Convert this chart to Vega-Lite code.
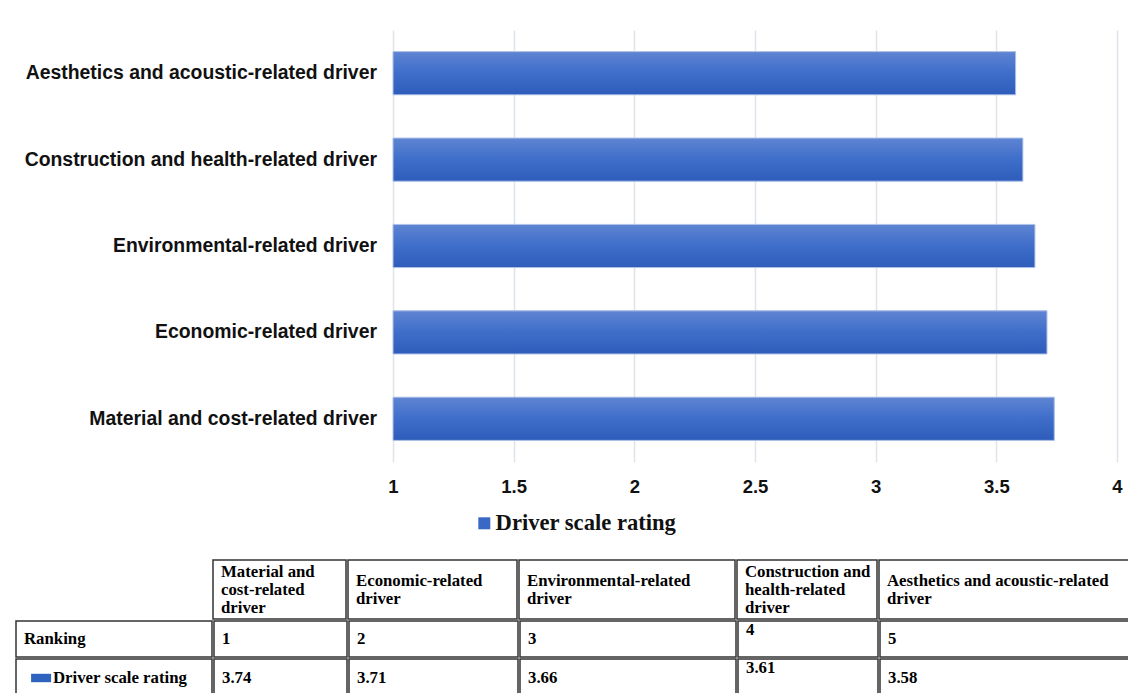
{
  "$schema": "https://vega.github.io/schema/vega-lite/v6.json",
  "background": "white",
  "padding": {"left": 15, "top": 30, "right": 0, "bottom": 0},
  "spacing": 63,
  "datasets": {
    "drivers": [
      {"driver": "Aesthetics and acoustic-related driver", "header": "Aesthetics and acoustic-related\ndriver", "rank": 5, "rating": 3.58, "series": "Driver scale rating"},
      {"driver": "Construction and health-related driver", "header": "Construction and\nhealth-related\ndriver", "rank": 4, "rating": 3.61, "series": "Driver scale rating"},
      {"driver": "Environmental-related driver", "header": "Environmental-related\ndriver", "rank": 3, "rating": 3.66, "series": "Driver scale rating"},
      {"driver": "Economic-related driver", "header": "Economic-related\ndriver", "rank": 2, "rating": 3.71, "series": "Driver scale rating"},
      {"driver": "Material and cost-related driver", "header": "Material and\ncost-related\ndriver", "rank": 1, "rating": 3.74, "series": "Driver scale rating"}
    ]
  },
  "config": {
    "view": {"stroke": "#333333", "strokeWidth": 1.5},
    "style": {
      "tbl": {"font": "Liberation Serif", "fontWeight": "bold", "fontSize": 16.8, "align": "left", "baseline": "middle", "dx": 8, "fill": "#111111"}
    }
  },
  "vconcat": [
    {
      "spacing": 0,
      "bounds": "flush",
      "hconcat": [
        {
          "width": 377,
          "height": 432,
          "view": {"stroke": null},
          "data": {"name": "drivers"},
          "mark": {"type": "text", "font": "Liberation Sans", "fontWeight": "bold", "fontSize": 19.4, "fill": "#111111", "align": "right", "baseline": "middle", "dx": -16},
          "encoding": {
            "y": {"field": "driver", "type": "nominal", "sort": {"field": "rating", "order": "ascending"}, "scale": {"paddingInner": 0.5, "paddingOuter": 0.25}, "axis": null},
            "x": {"datum": 1, "type": "quantitative", "scale": {"domain": [0, 1]}, "axis": null},
            "text": {"field": "driver", "type": "nominal"}
          }
        },
        {
          "width": 724,
          "height": 432,
          "view": {"stroke": null},
          "data": {"name": "drivers"},
          "encoding": {
            "y": {
              "field": "driver", "type": "nominal",
              "sort": {"field": "rating", "order": "ascending"},
              "scale": {"paddingInner": 0.5, "paddingOuter": 0.25},
              "axis": null
            },
            "x": {
              "field": "rating", "type": "quantitative",
              "scale": {"domain": [1, 4], "nice": false, "zero": false},
              "axis": {"title": null, "values": [1, 1.5, 2, 2.5, 3, 3.5, 4], "format": "~g", "domain": false, "ticks": false, "grid": true, "gridColor": "#dfe3ea", "gridWidth": 1.5, "labelFont": "Liberation Sans", "labelFontWeight": "bold", "labelFontSize": 18.5, "labelColor": "#111111", "labelPadding": 15, "labelFlush": false}
            },
            "x2": {"datum": 1}
          },
          "layer": [
            {
              "mark": {"type": "bar"},
              "encoding": {
                "color": {
                  "field": "series", "type": "nominal",
                  "scale": {"range": ["#3a68c6"]},
                  "legend": {"title": null, "orient": "none", "legendX": 457, "legendY": 482, "direction": "horizontal", "symbolType": "square", "symbolSize": 144, "labelFont": "Liberation Serif", "labelFontWeight": "bold", "labelFontSize": 22.6, "labelColor": "#111111", "labelOffset": 0, "labelLimit": 0}
                }
              }
            },
            {
              "mark": {
                "type": "bar",
                "stroke": "#b4c5ea",
                "strokeWidth": 1,
                "fill": {"gradient": "linear", "x1": 0, "y1": 0, "x2": 0, "y2": 1, "stops": [{"offset": 0, "color": "#5f85d2"}, {"offset": 0.5, "color": "#3e6dca"}, {"offset": 1, "color": "#2d5cba"}]}
              }
            }
          ]
        }
      ]
    },
    {
      "spacing": 0,
      "vconcat": [
        {
          "spacing": 0,
          "hconcat": [
            {"width": 196, "height": 59, "view": {"stroke": null}, "data": {"values": [{"t": "-"}]}, "mark": {"type": "text", "style": "tbl", "opacity": 0},
             "encoding": {"x": {"datum": 0, "type": "quantitative", "scale": {"domain": [0, 1]}, "axis": null}, "y": {"datum": 0.5, "type": "quantitative", "scale": {"domain": [0, 1]}, "axis": null}, "text": {"field": "t"}}},
            {"width": 133, "height": 59, "data": {"name": "drivers"}, "transform": [{"filter": "datum.rank == 1"}], "mark": {"type": "text", "style": "tbl", "lineHeight": 18, "lineBreak": "\n", "dy": -18},
             "encoding": {"x": {"datum": 0, "type": "quantitative", "scale": {"domain": [0, 1]}, "axis": null}, "y": {"datum": 0.5, "type": "quantitative", "scale": {"domain": [0, 1]}, "axis": null}, "text": {"field": "header", "type": "nominal"}}},
            {"width": 169, "height": 59, "data": {"name": "drivers"}, "transform": [{"filter": "datum.rank == 2"}], "mark": {"type": "text", "style": "tbl", "lineHeight": 18, "lineBreak": "\n", "dy": -9},
             "encoding": {"x": {"datum": 0, "type": "quantitative", "scale": {"domain": [0, 1]}, "axis": null}, "y": {"datum": 0.5, "type": "quantitative", "scale": {"domain": [0, 1]}, "axis": null}, "text": {"field": "header", "type": "nominal"}}},
            {"width": 216, "height": 59, "data": {"name": "drivers"}, "transform": [{"filter": "datum.rank == 3"}], "mark": {"type": "text", "style": "tbl", "lineHeight": 18, "lineBreak": "\n", "dy": -9},
             "encoding": {"x": {"datum": 0, "type": "quantitative", "scale": {"domain": [0, 1]}, "axis": null}, "y": {"datum": 0.5, "type": "quantitative", "scale": {"domain": [0, 1]}, "axis": null}, "text": {"field": "header", "type": "nominal"}}},
            {"width": 140, "height": 59, "data": {"name": "drivers"}, "transform": [{"filter": "datum.rank == 4"}], "mark": {"type": "text", "style": "tbl", "lineHeight": 18, "lineBreak": "\n", "dy": -18},
             "encoding": {"x": {"datum": 0, "type": "quantitative", "scale": {"domain": [0, 1]}, "axis": null}, "y": {"datum": 0.5, "type": "quantitative", "scale": {"domain": [0, 1]}, "axis": null}, "text": {"field": "header", "type": "nominal"}}},
            {"width": 258, "height": 59, "data": {"name": "drivers"}, "transform": [{"filter": "datum.rank == 5"}], "mark": {"type": "text", "style": "tbl", "lineHeight": 18, "lineBreak": "\n", "dy": -9},
             "encoding": {"x": {"datum": 0, "type": "quantitative", "scale": {"domain": [0, 1]}, "axis": null}, "y": {"datum": 0.5, "type": "quantitative", "scale": {"domain": [0, 1]}, "axis": null}, "text": {"field": "header", "type": "nominal"}}}
          ]
        },
        {
          "spacing": 0,
          "hconcat": [
            {"width": 196, "height": 36, "data": {"values": [{"label": "Ranking"}]}, "mark": {"type": "text", "style": "tbl"},
             "encoding": {"x": {"datum": 0, "type": "quantitative", "scale": {"domain": [0, 1]}, "axis": null}, "y": {"datum": 0.5, "type": "quantitative", "scale": {"domain": [0, 1]}, "axis": null}, "text": {"field": "label", "type": "nominal"}}},
            {"width": 133, "height": 36, "data": {"name": "drivers"}, "transform": [{"filter": "datum.rank == 1"}], "mark": {"type": "text", "style": "tbl"},
             "encoding": {"x": {"datum": 0, "type": "quantitative", "scale": {"domain": [0, 1]}, "axis": null}, "y": {"datum": 0.5, "type": "quantitative", "scale": {"domain": [0, 1]}, "axis": null}, "text": {"field": "rank", "type": "quantitative", "format": "d"}}},
            {"width": 169, "height": 36, "data": {"name": "drivers"}, "transform": [{"filter": "datum.rank == 2"}], "mark": {"type": "text", "style": "tbl"},
             "encoding": {"x": {"datum": 0, "type": "quantitative", "scale": {"domain": [0, 1]}, "axis": null}, "y": {"datum": 0.5, "type": "quantitative", "scale": {"domain": [0, 1]}, "axis": null}, "text": {"field": "rank", "type": "quantitative", "format": "d"}}},
            {"width": 216, "height": 36, "data": {"name": "drivers"}, "transform": [{"filter": "datum.rank == 3"}], "mark": {"type": "text", "style": "tbl"},
             "encoding": {"x": {"datum": 0, "type": "quantitative", "scale": {"domain": [0, 1]}, "axis": null}, "y": {"datum": 0.5, "type": "quantitative", "scale": {"domain": [0, 1]}, "axis": null}, "text": {"field": "rank", "type": "quantitative", "format": "d"}}},
            {"width": 140, "height": 36, "data": {"name": "drivers"}, "transform": [{"filter": "datum.rank == 4"}], "mark": {"type": "text", "style": "tbl", "baseline": "top", "dy": 1},
             "encoding": {"x": {"datum": 0, "type": "quantitative", "scale": {"domain": [0, 1]}, "axis": null}, "y": {"datum": 1, "type": "quantitative", "scale": {"domain": [0, 1]}, "axis": null}, "text": {"field": "rank", "type": "quantitative", "format": "d"}}},
            {"width": 258, "height": 36, "data": {"name": "drivers"}, "transform": [{"filter": "datum.rank == 5"}], "mark": {"type": "text", "style": "tbl"},
             "encoding": {"x": {"datum": 0, "type": "quantitative", "scale": {"domain": [0, 1]}, "axis": null}, "y": {"datum": 0.5, "type": "quantitative", "scale": {"domain": [0, 1]}, "axis": null}, "text": {"field": "rank", "type": "quantitative", "format": "d"}}}
          ]
        },
        {
          "spacing": 0,
          "hconcat": [
            {"width": 196, "height": 38, "data": {"values": [{"label": "Driver scale rating"}]},
             "encoding": {"x": {"datum": 0, "type": "quantitative", "scale": {"domain": [0, 1]}, "axis": null}, "y": {"datum": 0.5, "type": "quantitative", "scale": {"domain": [0, 1]}, "axis": null}},
             "layer": [
               {"mark": {"type": "point", "shape": "M-1,-0.42H1V0.42H-1Z", "filled": true, "size": 400, "color": "#2f63c0", "opacity": 1}, "encoding": {"x": {"datum": 0.128, "type": "quantitative"}}},
               {"mark": {"type": "text", "style": "tbl", "dx": 37}, "encoding": {"text": {"field": "label", "type": "nominal"}}}
             ]},
            {"width": 133, "height": 38, "data": {"name": "drivers"}, "transform": [{"filter": "datum.rank == 1"}], "mark": {"type": "text", "style": "tbl"},
             "encoding": {"x": {"datum": 0, "type": "quantitative", "scale": {"domain": [0, 1]}, "axis": null}, "y": {"datum": 0.5, "type": "quantitative", "scale": {"domain": [0, 1]}, "axis": null}, "text": {"field": "rating", "type": "quantitative", "format": ".2f"}}},
            {"width": 169, "height": 38, "data": {"name": "drivers"}, "transform": [{"filter": "datum.rank == 2"}], "mark": {"type": "text", "style": "tbl"},
             "encoding": {"x": {"datum": 0, "type": "quantitative", "scale": {"domain": [0, 1]}, "axis": null}, "y": {"datum": 0.5, "type": "quantitative", "scale": {"domain": [0, 1]}, "axis": null}, "text": {"field": "rating", "type": "quantitative", "format": ".2f"}}},
            {"width": 216, "height": 38, "data": {"name": "drivers"}, "transform": [{"filter": "datum.rank == 3"}], "mark": {"type": "text", "style": "tbl"},
             "encoding": {"x": {"datum": 0, "type": "quantitative", "scale": {"domain": [0, 1]}, "axis": null}, "y": {"datum": 0.5, "type": "quantitative", "scale": {"domain": [0, 1]}, "axis": null}, "text": {"field": "rating", "type": "quantitative", "format": ".2f"}}},
            {"width": 140, "height": 38, "data": {"name": "drivers"}, "transform": [{"filter": "datum.rank == 4"}], "mark": {"type": "text", "style": "tbl", "baseline": "top", "dy": 1},
             "encoding": {"x": {"datum": 0, "type": "quantitative", "scale": {"domain": [0, 1]}, "axis": null}, "y": {"datum": 1, "type": "quantitative", "scale": {"domain": [0, 1]}, "axis": null}, "text": {"field": "rating", "type": "quantitative", "format": ".2f"}}},
            {"width": 258, "height": 38, "data": {"name": "drivers"}, "transform": [{"filter": "datum.rank == 5"}], "mark": {"type": "text", "style": "tbl"},
             "encoding": {"x": {"datum": 0, "type": "quantitative", "scale": {"domain": [0, 1]}, "axis": null}, "y": {"datum": 0.5, "type": "quantitative", "scale": {"domain": [0, 1]}, "axis": null}, "text": {"field": "rating", "type": "quantitative", "format": ".2f"}}}
          ]
        }
      ]
    }
  ]
}
